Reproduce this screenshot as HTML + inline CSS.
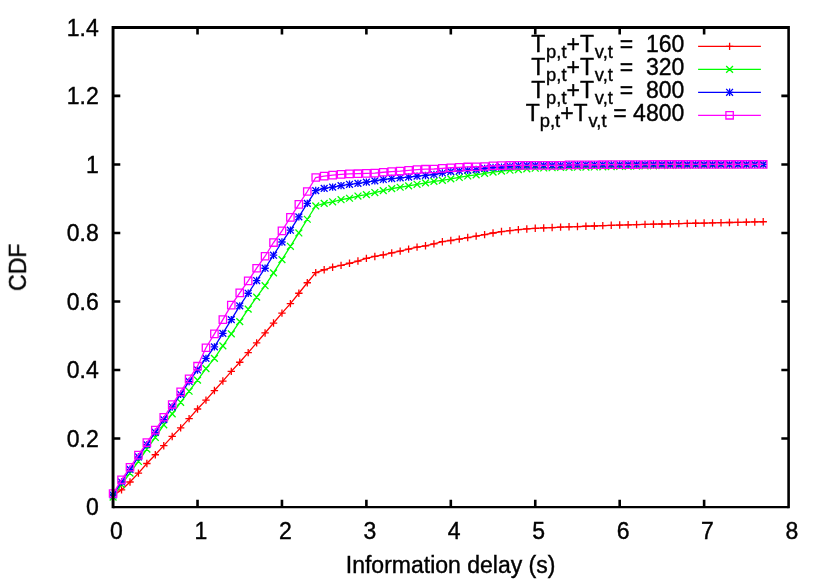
<!DOCTYPE html>
<html><head><meta charset="utf-8"><title>CDF of information delay</title>
<style>
html,body{margin:0;padding:0;background:#fff;}
body{width:830px;height:581px;overflow:hidden;}
svg{display:block;}
text{font-family:"Liberation Sans",sans-serif;font-size:23px;fill:#000;stroke:#000;stroke-width:0.4px;}
</style></head>
<body>
<svg width="830" height="581" viewBox="0 0 830 581">
<rect width="830" height="581" fill="#fff"/>
<g opacity="0.999">
<text x="116.5" y="538.5" text-anchor="middle">0</text>
<text x="200.93" y="538.5" text-anchor="middle">1</text>
<text x="285.36" y="538.5" text-anchor="middle">2</text>
<text x="369.79" y="538.5" text-anchor="middle">3</text>
<text x="454.22" y="538.5" text-anchor="middle">4</text>
<text x="538.66" y="538.5" text-anchor="middle">5</text>
<text x="623.09" y="538.5" text-anchor="middle">6</text>
<text x="707.52" y="538.5" text-anchor="middle">7</text>
<text x="791.95" y="538.5" text-anchor="middle">8</text>
<text x="98.7" y="515.2" text-anchor="end">0</text>
<text x="98.7" y="446.69" text-anchor="end">0.2</text>
<text x="98.7" y="378.17" text-anchor="end">0.4</text>
<text x="98.7" y="309.66" text-anchor="end">0.6</text>
<text x="98.7" y="241.14" text-anchor="end">0.8</text>
<text x="98.7" y="172.63" text-anchor="end">1</text>
<text x="98.7" y="104.11" text-anchor="end">1.2</text>
<text x="98.7" y="35.6" text-anchor="end">1.4</text>
<text x="450.6" y="572.9" text-anchor="middle">Information delay (s)</text>
<text transform="translate(25.9 267.2) rotate(-90)" text-anchor="middle">CDF</text>
<text x="684.3" y="52.05" text-anchor="end" xml:space="preserve">T<tspan font-size="18.4" dy="5.8" dx="0.8">p,t</tspan><tspan dy="-5.8" dx="0.0">+T</tspan><tspan font-size="18.4" dy="5.8" dx="0.8">v,t</tspan><tspan dy="-5.8" dx="0.4"> =  160</tspan></text>
<text x="684.3" y="75.1" text-anchor="end" xml:space="preserve">T<tspan font-size="18.4" dy="5.8" dx="0.8">p,t</tspan><tspan dy="-5.8" dx="0.0">+T</tspan><tspan font-size="18.4" dy="5.8" dx="0.8">v,t</tspan><tspan dy="-5.8" dx="0.4"> =  320</tspan></text>
<text x="684.3" y="98" text-anchor="end" xml:space="preserve">T<tspan font-size="18.4" dy="5.8" dx="0.8">p,t</tspan><tspan dy="-5.8" dx="0.0">+T</tspan><tspan font-size="18.4" dy="5.8" dx="0.8">v,t</tspan><tspan dy="-5.8" dx="0.4"> =  800</tspan></text>
<text x="684.3" y="121" text-anchor="end" xml:space="preserve">T<tspan font-size="18.4" dy="5.8" dx="0">p,t</tspan><tspan dy="-5.8" dx="0.0">+T</tspan><tspan font-size="18.4" dy="5.8" dx="0.8">v,t</tspan><tspan dy="-5.8" dx="0.4"> = 4800</tspan></text>
</g>
<g stroke="#ff0000" stroke-width="1.3" fill="none">
<path d="M698.1 46.35H760.9"/>
<path d="M113.1 495.35L121.54 489.87L129.99 481.99L138.43 473.09L146.87 463.49L155.32 454.76L163.76 445.68L172.2 436.43L180.64 427.87L189.09 418.62L197.53 409.02L205.97 400.12L214.42 390.53L222.86 381.07L231.3 371.34L239.75 362.26L248.19 352.67L256.63 342.91L265.08 332.97L273.52 323.04L281.96 313.1L290.41 303.65L298.85 293.24L307.29 282.75L315.73 272.58L324.18 269.77L332.62 267.2L341.06 265.42L349.51 263.26L357.95 261.03L366.39 258.36L374.84 256.44L383.28 254.87L391.72 252.95L400.17 251.1L408.61 249.11L417.05 247.16L425.5 245.82L433.94 243.91L442.38 241.68L450.82 240.48L459.27 239.11L467.71 237.53L476.15 236.13L484.6 234.66L493.04 233.01L501.48 231.57L509.93 230.65L518.37 229.65L526.81 228.93L535.26 228.32L543.7 227.94L552.14 227.53L560.59 227.12L569.03 226.78L577.47 226.54L585.91 226.23L594.36 225.99L602.8 225.65L611.24 225.3L619.69 225.06L628.13 224.82L636.57 224.55L645.02 224.36L653.46 224.18L661.9 223.99L670.35 223.8L678.79 223.61L687.23 223.43L695.68 223.24L704.12 223.05L712.56 222.86L721 222.68L729.45 222.49L737.89 222.3L746.33 222.12L754.78 221.93L763.22 221.74"/>
<path d="M725.9 46.35H733.3M729.6 42.65V50.05M109.4 495.35H116.8M113.1 491.65V499.05M117.84 489.87H125.24M121.54 486.17V493.57M126.29 481.99H133.69M129.99 478.29V485.69M134.73 473.09H142.13M138.43 469.39V476.79M143.17 463.49H150.57M146.87 459.79V467.19M151.62 454.76H159.02M155.32 451.06V458.46M160.06 445.68H167.46M163.76 441.98V449.38M168.5 436.43H175.9M172.2 432.73V440.13M176.94 427.87H184.34M180.64 424.17V431.57M185.39 418.62H192.79M189.09 414.92V422.32M193.83 409.02H201.23M197.53 405.32V412.72M202.27 400.12H209.67M205.97 396.42V403.82M210.72 390.53H218.12M214.42 386.83V394.23M219.16 381.07H226.56M222.86 377.37V384.77M227.6 371.34H235M231.3 367.64V375.04M236.05 362.26H243.45M239.75 358.56V365.96M244.49 352.67H251.89M248.19 348.97V356.37M252.93 342.91H260.33M256.63 339.21V346.61M261.38 332.97H268.78M265.08 329.27V336.67M269.82 323.04H277.22M273.52 319.34V326.74M278.26 313.1H285.66M281.96 309.4V316.8M286.71 303.65H294.11M290.41 299.95V307.35M295.15 293.24H302.55M298.85 289.54V296.94M303.59 282.75H310.99M307.29 279.05V286.45M312.03 272.58H319.43M315.73 268.88V276.28M320.48 269.77H327.88M324.18 266.07V273.47M328.92 267.2H336.32M332.62 263.5V270.9M337.36 265.42H344.76M341.06 261.72V269.12M345.81 263.26H353.21M349.51 259.56V266.96M354.25 261.03H361.65M357.95 257.33V264.73M362.69 258.36H370.09M366.39 254.66V262.06M371.14 256.44H378.54M374.84 252.74V260.14M379.58 254.87H386.98M383.28 251.17V258.57M388.02 252.95H395.42M391.72 249.25V256.65M396.47 251.1H403.87M400.17 247.4V254.8M404.91 249.11H412.31M408.61 245.41V252.81M413.35 247.16H420.75M417.05 243.46V250.86M421.8 245.82H429.2M425.5 242.12V249.52M430.24 243.91H437.64M433.94 240.21V247.61M438.68 241.68H446.08M442.38 237.98V245.38M447.12 240.48H454.52M450.82 236.78V244.18M455.57 239.11H462.97M459.27 235.41V242.81M464.01 237.53H471.41M467.71 233.83V241.23M472.45 236.13H479.85M476.15 232.43V239.83M480.9 234.66H488.3M484.6 230.96V238.36M489.34 233.01H496.74M493.04 229.31V236.71M497.78 231.57H505.18M501.48 227.87V235.27M506.23 230.65H513.63M509.93 226.95V234.35M514.67 229.65H522.07M518.37 225.95V233.35M523.11 228.93H530.51M526.81 225.23V232.63M531.56 228.32H538.96M535.26 224.62V232.02M540 227.94H547.4M543.7 224.24V231.64M548.44 227.53H555.84M552.14 223.83V231.23M556.89 227.12H564.29M560.59 223.42V230.82M565.33 226.78H572.73M569.03 223.08V230.48M573.77 226.54H581.17M577.47 222.84V230.24M582.21 226.23H589.62M585.91 222.53V229.93M590.66 225.99H598.06M594.36 222.29V229.69M599.1 225.65H606.5M602.8 221.95V229.35M607.54 225.3H614.94M611.24 221.6V229M615.99 225.06H623.39M619.69 221.36V228.76M624.43 224.82H631.83M628.13 221.12V228.52M632.87 224.55H640.27M636.57 220.85V228.25M641.32 224.36H648.72M645.02 220.66V228.06M649.76 224.18H657.16M653.46 220.48V227.88M658.2 223.99H665.6M661.9 220.29V227.69M666.65 223.8H674.05M670.35 220.1V227.5M675.09 223.61H682.49M678.79 219.91V227.31M683.53 223.43H690.93M687.23 219.73V227.13M691.98 223.24H699.38M695.68 219.54V226.94M700.42 223.05H707.82M704.12 219.35V226.75M708.86 222.86H716.26M712.56 219.16V226.56M717.3 222.68H724.71M721 218.98V226.38M725.75 222.49H733.15M729.45 218.79V226.19M734.19 222.3H741.59M737.89 218.6V226M742.63 222.12H750.03M746.33 218.42V225.82M751.08 221.93H758.48M754.78 218.23V225.63M759.52 221.74H766.92M763.22 218.04V225.44"/>
</g>
<g stroke="#00ff00" stroke-width="1.3" fill="none">
<path d="M698.1 69.4H760.9"/>
<path d="M113.1 497.07L121.54 484.6L129.99 473.09L138.43 461.44L146.87 449.11L155.32 437.46L163.76 424.78L172.2 413.82L180.64 402.28L189.09 391.21L197.53 380.08L205.97 368.6L214.42 358.39L222.86 345.85L231.3 333.83L239.75 321.67L248.19 309.16L256.63 297.17L265.08 285.7L273.52 272.85L281.96 259.66L290.41 246.3L298.85 232.94L307.29 219.24L315.73 205.95L324.18 203.34L332.62 201.77L341.06 199.71L349.51 198.24L357.95 196.05L366.39 194.57L374.84 192.52L383.28 190.57L391.72 188.65L400.17 187.24L408.61 185.84L417.05 184.3L425.5 182.93L433.94 181.42L442.38 180.32L450.82 178.82L459.27 177.45L467.71 175.94L476.15 174.84L484.6 173.34L493.04 172.14L501.48 171.11L509.93 170.25L518.37 169.57L526.81 168.88L535.26 168.2L543.7 167.96L552.14 167.75L560.59 167.51L569.03 167.34L577.47 167.21L585.91 167.08L594.36 166.96L602.8 166.83L611.24 166.66L619.69 166.48L628.13 166.31L636.57 166.14L645.02 165.97L653.46 165.8L661.9 165.63L670.35 165.46L678.79 165.37L687.23 165.28L695.68 165.2L704.12 165.11L712.56 165.05L721 164.99L729.45 164.92L737.89 164.86L746.33 164.8L754.78 164.73L763.22 164.67"/>
<path d="M726.2 66L733 72.8M726.2 72.8L733 66M109.7 493.67L116.5 500.47M109.7 500.47L116.5 493.67M118.14 481.2L124.94 488M118.14 488L124.94 481.2M126.59 469.69L133.39 476.49M126.59 476.49L133.39 469.69M135.03 458.04L141.83 464.84M135.03 464.84L141.83 458.04M143.47 445.71L150.27 452.51M143.47 452.51L150.27 445.71M151.92 434.06L158.72 440.86M151.92 440.86L158.72 434.06M160.36 421.38L167.16 428.18M160.36 428.18L167.16 421.38M168.8 410.42L175.6 417.22M168.8 417.22L175.6 410.42M177.24 398.88L184.04 405.68M177.24 405.68L184.04 398.88M185.69 387.81L192.49 394.61M185.69 394.61L192.49 387.81M194.13 376.68L200.93 383.48M194.13 383.48L200.93 376.68M202.57 365.2L209.37 372M202.57 372L209.37 365.2M211.02 354.99L217.82 361.79M211.02 361.79L217.82 354.99M219.46 342.45L226.26 349.25M219.46 349.25L226.26 342.45M227.9 330.43L234.7 337.23M227.9 337.23L234.7 330.43M236.35 318.27L243.15 325.07M236.35 325.07L243.15 318.27M244.79 305.76L251.59 312.56M244.79 312.56L251.59 305.76M253.23 293.77L260.03 300.57M253.23 300.57L260.03 293.77M261.68 282.3L268.48 289.1M261.68 289.1L268.48 282.3M270.12 269.45L276.92 276.25M270.12 276.25L276.92 269.45M278.56 256.26L285.36 263.06M278.56 263.06L285.36 256.26M287.01 242.9L293.81 249.7M287.01 249.7L293.81 242.9M295.45 229.54L302.25 236.34M295.45 236.34L302.25 229.54M303.89 215.84L310.69 222.64M303.89 222.64L310.69 215.84M312.33 202.55L319.13 209.35M312.33 209.35L319.13 202.55M320.78 199.94L327.58 206.74M320.78 206.74L327.58 199.94M329.22 198.37L336.02 205.17M329.22 205.17L336.02 198.37M337.66 196.31L344.46 203.11M337.66 203.11L344.46 196.31M346.11 194.84L352.91 201.64M346.11 201.64L352.91 194.84M354.55 192.65L361.35 199.45M354.55 199.45L361.35 192.65M362.99 191.17L369.79 197.97M362.99 197.97L369.79 191.17M371.44 189.12L378.24 195.92M371.44 195.92L378.24 189.12M379.88 187.17L386.68 193.97M379.88 193.97L386.68 187.17M388.32 185.25L395.12 192.05M388.32 192.05L395.12 185.25M396.77 183.84L403.57 190.64M396.77 190.64L403.57 183.84M405.21 182.44L412.01 189.24M405.21 189.24L412.01 182.44M413.65 180.9L420.45 187.7M413.65 187.7L420.45 180.9M422.1 179.53L428.9 186.33M422.1 186.33L428.9 179.53M430.54 178.02L437.34 184.82M430.54 184.82L437.34 178.02M438.98 176.92L445.78 183.72M438.98 183.72L445.78 176.92M447.42 175.42L454.22 182.22M447.42 182.22L454.22 175.42M455.87 174.05L462.67 180.85M455.87 180.85L462.67 174.05M464.31 172.54L471.11 179.34M464.31 179.34L471.11 172.54M472.75 171.44L479.55 178.24M472.75 178.24L479.55 171.44M481.2 169.94L488 176.74M481.2 176.74L488 169.94M489.64 168.74L496.44 175.54M489.64 175.54L496.44 168.74M498.08 167.71L504.88 174.51M498.08 174.51L504.88 167.71M506.53 166.85L513.33 173.65M506.53 173.65L513.33 166.85M514.97 166.17L521.77 172.97M514.97 172.97L521.77 166.17M523.41 165.48L530.21 172.28M523.41 172.28L530.21 165.48M531.86 164.8L538.66 171.6M531.86 171.6L538.66 164.8M540.3 164.56L547.1 171.36M540.3 171.36L547.1 164.56M548.74 164.35L555.54 171.15M548.74 171.15L555.54 164.35M557.19 164.11L563.99 170.91M557.19 170.91L563.99 164.11M565.63 163.94L572.43 170.74M565.63 170.74L572.43 163.94M574.07 163.81L580.87 170.61M574.07 170.61L580.87 163.81M582.51 163.68L589.31 170.48M582.51 170.48L589.31 163.68M590.96 163.56L597.76 170.36M590.96 170.36L597.76 163.56M599.4 163.43L606.2 170.23M599.4 170.23L606.2 163.43M607.84 163.26L614.64 170.06M607.84 170.06L614.64 163.26M616.29 163.08L623.09 169.88M616.29 169.88L623.09 163.08M624.73 162.91L631.53 169.71M624.73 169.71L631.53 162.91M633.17 162.74L639.97 169.54M633.17 169.54L639.97 162.74M641.62 162.57L648.42 169.37M641.62 169.37L648.42 162.57M650.06 162.4L656.86 169.2M650.06 169.2L656.86 162.4M658.5 162.23L665.3 169.03M658.5 169.03L665.3 162.23M666.95 162.06L673.75 168.86M666.95 168.86L673.75 162.06M675.39 161.97L682.19 168.77M675.39 168.77L682.19 161.97M683.83 161.88L690.63 168.68M683.83 168.68L690.63 161.88M692.28 161.8L699.08 168.6M692.28 168.6L699.08 161.8M700.72 161.71L707.52 168.51M700.72 168.51L707.52 161.71M709.16 161.65L715.96 168.45M709.16 168.45L715.96 161.65M717.61 161.59L724.4 168.39M717.61 168.39L724.4 161.59M726.05 161.52L732.85 168.32M726.05 168.32L732.85 161.52M734.49 161.46L741.29 168.26M734.49 168.26L741.29 161.46M742.93 161.4L749.73 168.2M742.93 168.2L749.73 161.4M751.38 161.33L758.18 168.13M751.38 168.13L758.18 161.33M759.82 161.27L766.62 168.07M759.82 168.07L766.62 161.27"/>
</g>
<g stroke="#0000ff" stroke-width="1.3" fill="none">
<path d="M698.1 92.3H760.9"/>
<path d="M113.1 495.01L121.54 481.99L129.99 469.32L138.43 456.98L146.87 444.65L155.32 432.32L163.76 419.64L172.2 406.97L180.64 394.29L189.09 381.45L197.53 369.97L205.97 358.39L214.42 346.85L222.86 333.35L231.3 319.61L239.75 305.91L248.19 293.24L256.63 280.56L265.08 268.23L273.52 255.21L281.96 242.02L290.41 230.2L298.85 216.84L307.29 203.34L315.73 190.57L324.18 188.41L332.62 187.14L341.06 185.67L349.51 184.3L357.95 183.37L366.39 182.17L374.84 180.84L383.28 179.5L391.72 178.54L400.17 177.79L408.61 177.04L417.05 176.11L425.5 175.43L433.94 174.5L442.38 172.99L450.82 171.62L459.27 170.94L467.71 170.25L476.15 169.57L484.6 168.37L493.04 167.51L501.48 167.1L509.93 166.31L518.37 165.63L526.81 165.39L535.26 165.32L543.7 165.32L552.14 165.32L560.59 165.28L569.03 164.77L577.47 164.73L585.91 164.69L594.36 164.64L602.8 164.6L611.24 164.56L619.69 164.51L628.13 164.47L636.57 164.43L645.02 164.43L653.46 164.43L661.9 164.43L670.35 164.43L678.79 164.43L687.23 164.43L695.68 164.43L704.12 164.43L712.56 164.43L721 164.43L729.45 164.43L737.89 164.43L746.33 164.43L754.78 164.43L763.22 164.43"/>
<path d="M725.9 92.3H733.3M729.6 88.6V96M109.4 495.01H116.8M113.1 491.31V498.71M117.84 481.99H125.24M121.54 478.29V485.69M126.29 469.32H133.69M129.99 465.62V473.02M134.73 456.98H142.13M138.43 453.28V460.68M143.17 444.65H150.57M146.87 440.95V448.35M151.62 432.32H159.02M155.32 428.62V436.02M160.06 419.64H167.46M163.76 415.94V423.34M168.5 406.97H175.9M172.2 403.27V410.67M176.94 394.29H184.34M180.64 390.59V397.99M185.39 381.45H192.79M189.09 377.75V385.15M193.83 369.97H201.23M197.53 366.27V373.67M202.27 358.39H209.67M205.97 354.69V362.09M210.72 346.85H218.12M214.42 343.15V350.55M219.16 333.35H226.56M222.86 329.65V337.05M227.6 319.61H235M231.3 315.91V323.31M236.05 305.91H243.45M239.75 302.21V309.61M244.49 293.24H251.89M248.19 289.54V296.94M252.93 280.56H260.33M256.63 276.86V284.26M261.38 268.23H268.78M265.08 264.53V271.93M269.82 255.21H277.22M273.52 251.51V258.91M278.26 242.02H285.66M281.96 238.32V245.72M286.71 230.2H294.11M290.41 226.5V233.9M295.15 216.84H302.55M298.85 213.14V220.54M303.59 203.34H310.99M307.29 199.64V207.04M312.03 190.57H319.43M315.73 186.87V194.27M320.48 188.41H327.88M324.18 184.71V192.11M328.92 187.14H336.32M332.62 183.44V190.84M337.36 185.67H344.76M341.06 181.97V189.37M345.81 184.3H353.21M349.51 180.6V188M354.25 183.37H361.65M357.95 179.67V187.07M362.69 182.17H370.09M366.39 178.47V185.87M371.14 180.84H378.54M374.84 177.14V184.54M379.58 179.5H386.98M383.28 175.8V183.2M388.02 178.54H395.42M391.72 174.84V182.24M396.47 177.79H403.87M400.17 174.09V181.49M404.91 177.04H412.31M408.61 173.34V180.74M413.35 176.11H420.75M417.05 172.41V179.81M421.8 175.43H429.2M425.5 171.73V179.13M430.24 174.5H437.64M433.94 170.8V178.2M438.68 172.99H446.08M442.38 169.29V176.69M447.12 171.62H454.52M450.82 167.92V175.32M455.57 170.94H462.97M459.27 167.24V174.64M464.01 170.25H471.41M467.71 166.55V173.95M472.45 169.57H479.85M476.15 165.87V173.27M480.9 168.37H488.3M484.6 164.67V172.07M489.34 167.51H496.74M493.04 163.81V171.21M497.78 167.1H505.18M501.48 163.4V170.8M506.23 166.31H513.63M509.93 162.61V170.01M514.67 165.63H522.07M518.37 161.93V169.33M523.11 165.39H530.51M526.81 161.69V169.09M531.56 165.32H538.96M535.26 161.62V169.02M540 165.32H547.4M543.7 161.62V169.02M548.44 165.32H555.84M552.14 161.62V169.02M556.89 165.28H564.29M560.59 161.58V168.98M565.33 164.77H572.73M569.03 161.07V168.47M573.77 164.73H581.17M577.47 161.03V168.43M582.21 164.69H589.62M585.91 160.99V168.39M590.66 164.64H598.06M594.36 160.94V168.34M599.1 164.6H606.5M602.8 160.9V168.3M607.54 164.56H614.94M611.24 160.86V168.26M615.99 164.51H623.39M619.69 160.81V168.21M624.43 164.47H631.83M628.13 160.77V168.17M632.87 164.43H640.27M636.57 160.73V168.13M641.32 164.43H648.72M645.02 160.73V168.13M649.76 164.43H657.16M653.46 160.73V168.13M658.2 164.43H665.6M661.9 160.73V168.13M666.65 164.43H674.05M670.35 160.73V168.13M675.09 164.43H682.49M678.79 160.73V168.13M683.53 164.43H690.93M687.23 160.73V168.13M691.98 164.43H699.38M695.68 160.73V168.13M700.42 164.43H707.82M704.12 160.73V168.13M708.86 164.43H716.26M712.56 160.73V168.13M717.3 164.43H724.71M721 160.73V168.13M725.75 164.43H733.15M729.45 160.73V168.13M734.19 164.43H741.59M737.89 160.73V168.13M742.63 164.43H750.03M746.33 160.73V168.13M751.08 164.43H758.48M754.78 160.73V168.13M759.52 164.43H766.92M763.22 160.73V168.13"/>
<path d="M726.2 88.9L733 95.7M726.2 95.7L733 88.9M109.7 491.61L116.5 498.41M109.7 498.41L116.5 491.61M118.14 478.59L124.94 485.39M118.14 485.39L124.94 478.59M126.59 465.92L133.39 472.72M126.59 472.72L133.39 465.92M135.03 453.58L141.83 460.38M135.03 460.38L141.83 453.58M143.47 441.25L150.27 448.05M143.47 448.05L150.27 441.25M151.92 428.92L158.72 435.72M151.92 435.72L158.72 428.92M160.36 416.24L167.16 423.04M160.36 423.04L167.16 416.24M168.8 403.57L175.6 410.37M168.8 410.37L175.6 403.57M177.24 390.89L184.04 397.69M177.24 397.69L184.04 390.89M185.69 378.05L192.49 384.85M185.69 384.85L192.49 378.05M194.13 366.57L200.93 373.37M194.13 373.37L200.93 366.57M202.57 354.99L209.37 361.79M202.57 361.79L209.37 354.99M211.02 343.45L217.82 350.25M211.02 350.25L217.82 343.45M219.46 329.95L226.26 336.75M219.46 336.75L226.26 329.95M227.9 316.21L234.7 323.01M227.9 323.01L234.7 316.21M236.35 302.51L243.15 309.31M236.35 309.31L243.15 302.51M244.79 289.84L251.59 296.64M244.79 296.64L251.59 289.84M253.23 277.16L260.03 283.96M253.23 283.96L260.03 277.16M261.68 264.83L268.48 271.63M261.68 271.63L268.48 264.83M270.12 251.81L276.92 258.61M270.12 258.61L276.92 251.81M278.56 238.62L285.36 245.42M278.56 245.42L285.36 238.62M287.01 226.8L293.81 233.6M287.01 233.6L293.81 226.8M295.45 213.44L302.25 220.24M295.45 220.24L302.25 213.44M303.89 199.94L310.69 206.74M303.89 206.74L310.69 199.94M312.33 187.17L319.13 193.97M312.33 193.97L319.13 187.17M320.78 185.01L327.58 191.81M320.78 191.81L327.58 185.01M329.22 183.74L336.02 190.54M329.22 190.54L336.02 183.74M337.66 182.27L344.46 189.07M337.66 189.07L344.46 182.27M346.11 180.9L352.91 187.7M346.11 187.7L352.91 180.9M354.55 179.97L361.35 186.77M354.55 186.77L361.35 179.97M362.99 178.77L369.79 185.57M362.99 185.57L369.79 178.77M371.44 177.44L378.24 184.24M371.44 184.24L378.24 177.44M379.88 176.1L386.68 182.9M379.88 182.9L386.68 176.1M388.32 175.14L395.12 181.94M388.32 181.94L395.12 175.14M396.77 174.39L403.57 181.19M396.77 181.19L403.57 174.39M405.21 173.64L412.01 180.44M405.21 180.44L412.01 173.64M413.65 172.71L420.45 179.51M413.65 179.51L420.45 172.71M422.1 172.03L428.9 178.83M422.1 178.83L428.9 172.03M430.54 171.1L437.34 177.9M430.54 177.9L437.34 171.1M438.98 169.59L445.78 176.39M438.98 176.39L445.78 169.59M447.42 168.22L454.22 175.02M447.42 175.02L454.22 168.22M455.87 167.54L462.67 174.34M455.87 174.34L462.67 167.54M464.31 166.85L471.11 173.65M464.31 173.65L471.11 166.85M472.75 166.17L479.55 172.97M472.75 172.97L479.55 166.17M481.2 164.97L488 171.77M481.2 171.77L488 164.97M489.64 164.11L496.44 170.91M489.64 170.91L496.44 164.11M498.08 163.7L504.88 170.5M498.08 170.5L504.88 163.7M506.53 162.91L513.33 169.71M506.53 169.71L513.33 162.91M514.97 162.23L521.77 169.03M514.97 169.03L521.77 162.23M523.41 161.99L530.21 168.79M523.41 168.79L530.21 161.99M531.86 161.92L538.66 168.72M531.86 168.72L538.66 161.92M540.3 161.92L547.1 168.72M540.3 168.72L547.1 161.92M548.74 161.92L555.54 168.72M548.74 168.72L555.54 161.92M557.19 161.88L563.99 168.68M557.19 168.68L563.99 161.88M565.63 161.37L572.43 168.17M565.63 168.17L572.43 161.37M574.07 161.33L580.87 168.13M574.07 168.13L580.87 161.33M582.51 161.29L589.31 168.09M582.51 168.09L589.31 161.29M590.96 161.24L597.76 168.04M590.96 168.04L597.76 161.24M599.4 161.2L606.2 168M599.4 168L606.2 161.2M607.84 161.16L614.64 167.96M607.84 167.96L614.64 161.16M616.29 161.11L623.09 167.91M616.29 167.91L623.09 161.11M624.73 161.07L631.53 167.87M624.73 167.87L631.53 161.07M633.17 161.03L639.97 167.83M633.17 167.83L639.97 161.03M641.62 161.03L648.42 167.83M641.62 167.83L648.42 161.03M650.06 161.03L656.86 167.83M650.06 167.83L656.86 161.03M658.5 161.03L665.3 167.83M658.5 167.83L665.3 161.03M666.95 161.03L673.75 167.83M666.95 167.83L673.75 161.03M675.39 161.03L682.19 167.83M675.39 167.83L682.19 161.03M683.83 161.03L690.63 167.83M683.83 167.83L690.63 161.03M692.28 161.03L699.08 167.83M692.28 167.83L699.08 161.03M700.72 161.03L707.52 167.83M700.72 167.83L707.52 161.03M709.16 161.03L715.96 167.83M709.16 167.83L715.96 161.03M717.61 161.03L724.4 167.83M717.61 167.83L724.4 161.03M726.05 161.03L732.85 167.83M726.05 167.83L732.85 161.03M734.49 161.03L741.29 167.83M734.49 167.83L741.29 161.03M742.93 161.03L749.73 167.83M742.93 167.83L749.73 161.03M751.38 161.03L758.18 167.83M751.38 167.83L758.18 161.03M759.82 161.03L766.62 167.83M759.82 167.83L766.62 161.03"/>
</g>
<g stroke="#ff00ff" stroke-width="1.3" fill="none">
<path d="M698.1 115.3H760.9"/>
<path d="M113.1 493.5L121.54 479.8L129.99 467.26L138.43 455.1L146.87 442.6L155.32 430.09L163.76 417.25L172.2 404.57L180.64 391.9L189.09 378.88L197.53 366.2L205.97 347.77L214.42 333.83L222.86 319.61L231.3 305.16L239.75 292.89L248.19 280.9L256.63 268.23L265.08 256.24L273.52 242.53L281.96 230.89L290.41 217.36L298.85 204.34L307.29 191.49L315.73 177.51L324.18 176.08L332.62 175.12L341.06 174.36L349.51 173.92L357.95 173.68L366.39 173.34L374.84 173.16L383.28 172.24L391.72 171.55L400.17 171.04L408.61 170.32L417.05 169.64L425.5 169.22L433.94 169.02L442.38 168.37L450.82 167.75L459.27 167.34L467.71 166.96L476.15 166.76L484.6 166.48L493.04 165.73L501.48 165.66L509.93 165.46L518.37 165.39L526.81 165.35L535.26 165.39L543.7 165.39L552.14 165.39L560.59 165.35L569.03 164.84L577.47 164.8L585.91 164.76L594.36 164.73L602.8 164.69L611.24 164.65L619.69 164.62L628.13 164.58L636.57 164.54L645.02 164.5L653.46 164.47L661.9 164.43L670.35 164.43L678.79 164.43L687.23 164.43L695.68 164.43L704.12 164.43L712.56 164.43L721 164.43L729.45 164.43L737.89 164.43L746.33 164.43L754.78 164.43L763.22 164.43"/>
<path d="M725.9 111.6H733.3V119H725.9ZM109.4 489.8H116.8V497.2H109.4ZM117.84 476.1H125.24V483.5H117.84ZM126.29 463.56H133.69V470.96H126.29ZM134.73 451.4H142.13V458.8H134.73ZM143.17 438.9H150.57V446.3H143.17ZM151.62 426.39H159.02V433.79H151.62ZM160.06 413.55H167.46V420.95H160.06ZM168.5 400.87H175.9V408.27H168.5ZM176.94 388.2H184.34V395.6H176.94ZM185.39 375.18H192.79V382.58H185.39ZM193.83 362.5H201.23V369.9H193.83ZM202.27 344.07H209.67V351.47H202.27ZM210.72 330.13H218.12V337.53H210.72ZM219.16 315.91H226.56V323.31H219.16ZM227.6 301.46H235V308.86H227.6ZM236.05 289.19H243.45V296.59H236.05ZM244.49 277.2H251.89V284.6H244.49ZM252.93 264.53H260.33V271.93H252.93ZM261.38 252.54H268.78V259.94H261.38ZM269.82 238.83H277.22V246.23H269.82ZM278.26 227.19H285.66V234.59H278.26ZM286.71 213.66H294.11V221.06H286.71ZM295.15 200.64H302.55V208.04H295.15ZM303.59 187.79H310.99V195.19H303.59ZM312.03 173.81H319.43V181.21H312.03ZM320.48 172.38H327.88V179.78H320.48ZM328.92 171.42H336.32V178.82H328.92ZM337.36 170.66H344.76V178.06H337.36ZM345.81 170.22H353.21V177.62H345.81ZM354.25 169.98H361.65V177.38H354.25ZM362.69 169.64H370.09V177.04H362.69ZM371.14 169.46H378.54V176.86H371.14ZM379.58 168.54H386.98V175.94H379.58ZM388.02 167.85H395.42V175.25H388.02ZM396.47 167.34H403.87V174.74H396.47ZM404.91 166.62H412.31V174.02H404.91ZM413.35 165.94H420.75V173.34H413.35ZM421.8 165.52H429.2V172.92H421.8ZM430.24 165.32H437.64V172.72H430.24ZM438.68 164.67H446.08V172.07H438.68ZM447.12 164.05H454.52V171.45H447.12ZM455.57 163.64H462.97V171.04H455.57ZM464.01 163.26H471.41V170.66H464.01ZM472.45 163.06H479.85V170.46H472.45ZM480.9 162.78H488.3V170.18H480.9ZM489.34 162.03H496.74V169.43H489.34ZM497.78 161.96H505.18V169.36H497.78ZM506.23 161.76H513.63V169.16H506.23ZM514.67 161.69H522.07V169.09H514.67ZM523.11 161.65H530.51V169.05H523.11ZM531.56 161.69H538.96V169.09H531.56ZM540 161.69H547.4V169.09H540ZM548.44 161.69H555.84V169.09H548.44ZM556.89 161.65H564.29V169.05H556.89ZM565.33 161.14H572.73V168.54H565.33ZM573.77 161.1H581.17V168.5H573.77ZM582.21 161.06H589.62V168.46H582.21ZM590.66 161.03H598.06V168.43H590.66ZM599.1 160.99H606.5V168.39H599.1ZM607.54 160.95H614.94V168.35H607.54ZM615.99 160.92H623.39V168.32H615.99ZM624.43 160.88H631.83V168.28H624.43ZM632.87 160.84H640.27V168.24H632.87ZM641.32 160.8H648.72V168.2H641.32ZM649.76 160.77H657.16V168.17H649.76ZM658.2 160.73H665.6V168.13H658.2ZM666.65 160.73H674.05V168.13H666.65ZM675.09 160.73H682.49V168.13H675.09ZM683.53 160.73H690.93V168.13H683.53ZM691.98 160.73H699.38V168.13H691.98ZM700.42 160.73H707.82V168.13H700.42ZM708.86 160.73H716.26V168.13H708.86ZM717.3 160.73H724.71V168.13H717.3ZM725.75 160.73H733.15V168.13H725.75ZM734.19 160.73H741.59V168.13H734.19ZM742.63 160.73H750.03V168.13H742.63ZM751.08 160.73H758.48V168.13H751.08ZM759.52 160.73H766.92V168.13H759.52Z"/>
</g>
<g stroke="#000" fill="none">
<path d="M113.05 26.1V508.3" stroke-width="2.9"/>
<path d="M788.6 26.1V508.3" stroke-width="2.6"/>
<path d="M113.05 27.55H788.6" stroke-width="2.9"/>
<path d="M113.05 507.15H788.6" stroke-width="2.3"/>
<path d="M197.53 507V499.8M197.53 27.4V34.6M281.96 507V499.8M281.96 27.4V34.6M366.39 507V499.8M366.39 27.4V34.6M450.82 507V499.8M450.82 27.4V34.6M535.26 507V499.8M535.26 27.4V34.6M619.69 507V499.8M619.69 27.4V34.6M704.12 507V499.8M704.12 27.4V34.6M113.1 438.49H120.3M788.55 438.49H781.35M113.1 369.97H120.3M788.55 369.97H781.35M113.1 301.46H120.3M788.55 301.46H781.35M113.1 232.94H120.3M788.55 232.94H781.35M113.1 164.43H120.3M788.55 164.43H781.35M113.1 95.91H120.3M788.55 95.91H781.35" stroke-width="2.6"/>
</g>
</svg>
</body></html>
